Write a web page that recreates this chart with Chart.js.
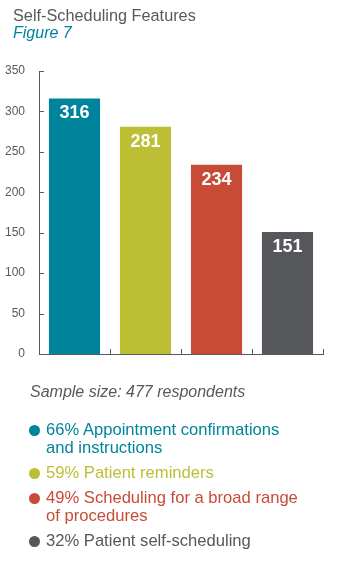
<!DOCTYPE html>
<html>
<head>
<meta charset="utf-8">
<script src="https://cdn.jsdelivr.net/npm/chart.js@4/dist/chart.umd.min.js"></script>
<style>
    body { margin: 0; background: #fff; font-family: Arial, "Liberation Sans", sans-serif; }
    #wrap { position: relative; width: 344px; height: 571px; }
    #chart { position: absolute; left: 0; top: 0; }
    .txt { position: absolute; left: 13px; white-space: nowrap; }
    #title { top: 7px; font-size: 16.3px; line-height: 16px; color: #58595b; }
    #figure { top: 25px; font-size: 16px; line-height: 16px; color: #00849b; font-style: italic; }
    #sample { left: 30px; top: 384px; font-size: 16px; line-height: 16px; color: #58595b; font-style: italic; }
    #legend { position: absolute; left: 29px; top: 421px; font-size: 16.6px; line-height: 18px; }
    .item { position: relative; padding-left: 17px; margin-bottom: 7px; }
    .dot { position: absolute; left: 0; top: 4px; width: 11px; height: 11px; border-radius: 50%; }
</style>
</head>
<body>
<div id="wrap">
    <canvas id="chart" width="344" height="571"></canvas>
    <div class="txt" id="title">Self-Scheduling Features</div>
    <div class="txt" id="figure">Figure 7</div>
    <div class="txt" id="sample">Sample size: 477 respondents</div>
    <div id="legend"></div>
</div>
<script>
const categories = ['Appointment confirmations and instructions', 'Patient reminders', 'Scheduling for a broad range of procedures', 'Patient self-scheduling'];
const respondents = [316, 281, 234, 151];
const percents = [66, 59, 49, 32];
const legendLines = [
    ['Appointment confirmations', 'and instructions'],
    ['Patient reminders'],
    ['Scheduling for a broad range', 'of procedures'],
    ['Patient self-scheduling']
];
const colors = ['#00849b', '#bcbe33', '#c84b37', '#56575b'];
const yTicks = [0, 50, 100, 150, 200, 250, 300, 350];

const axisColor = '#58595b';

// legend below the chart
const legend = document.getElementById('legend');
legendLines.forEach((lines, i) => {
    const item = document.createElement('div');
    item.className = 'item';
    item.style.color = colors[i];
    item.innerHTML = '<span class="dot" style="background:' + colors[i] + '"></span>' +
        percents[i] + '% ' + lines.join('<br>');
    legend.appendChild(item);
});

// short inward ticks on both axes
const tickMarks = {
    id: 'tickMarks',
    afterDraw(chart) {
        const ctx = chart.ctx;
        const x = chart.scales.x;
        const y = chart.scales.y;
        const left = chart.chartArea.left;
        const bottom = chart.chartArea.bottom;
        ctx.save();
        ctx.strokeStyle = axisColor;
        ctx.lineWidth = 1;
        ctx.beginPath();
        yTicks.forEach(v => {
            const py = Math.round(y.getPixelForValue(v)) + 0.5;
            ctx.moveTo(left, py);
            ctx.lineTo(left + 5, py);
        });
        const half = (x.getPixelForValue(1) - x.getPixelForValue(0)) / 2;
        categories.forEach((c, i) => {
            const px = Math.round(x.getPixelForValue(i) + half) + 0.5;
            ctx.moveTo(px, bottom);
            ctx.lineTo(px, bottom - 5);
        });
        ctx.stroke();
        ctx.restore();
    }
};

// value printed inside the top of each bar
const barValues = {
    id: 'barValues',
    afterDatasetsDraw(chart) {
        const ctx = chart.ctx;
        const meta = chart.getDatasetMeta(0);
        ctx.save();
        ctx.fillStyle = '#fff';
        ctx.font = 'bold 18px Arial, "Liberation Sans", sans-serif';
        ctx.textAlign = 'center';
        ctx.textBaseline = 'middle';
        meta.data.forEach((bar, i) => {
            ctx.fillText(String(respondents[i]), bar.x, bar.y + 15);
        });
        ctx.restore();
    }
};

new Chart(document.getElementById('chart'), {
    type: 'bar',
    data: {
        labels: categories,
        datasets: [{
            data: respondents,
            backgroundColor: colors,
            borderWidth: 0,
            barPercentage: 0.72,
            categoryPercentage: 1
        }]
    },
    options: {
        responsive: false,
        animation: false,
        layout: { padding: { left: 0, top: 71, right: 21, bottom: 217 } },
        plugins: {
            legend: { display: false },
            tooltip: { enabled: false }
        },
        scales: {
            x: {
                grid: { display: false },
                border: { display: true, color: axisColor, width: 1 },
                ticks: { display: false },
                afterFit(scale) { scale.height = 0; }
            },
            y: {
                min: 0,
                max: 350,
                grid: { display: false },
                border: { display: true, color: axisColor, width: 1 },
                ticks: {
                    stepSize: 50,
                    padding: 6,
                    color: axisColor,
                    font: { family: 'Arial, "Liberation Sans", sans-serif', size: 12 }
                },
                afterFit(scale) { scale.width = 39; }
            }
        }
    },
    plugins: [tickMarks, barValues]
});
</script>
</body>
</html>
